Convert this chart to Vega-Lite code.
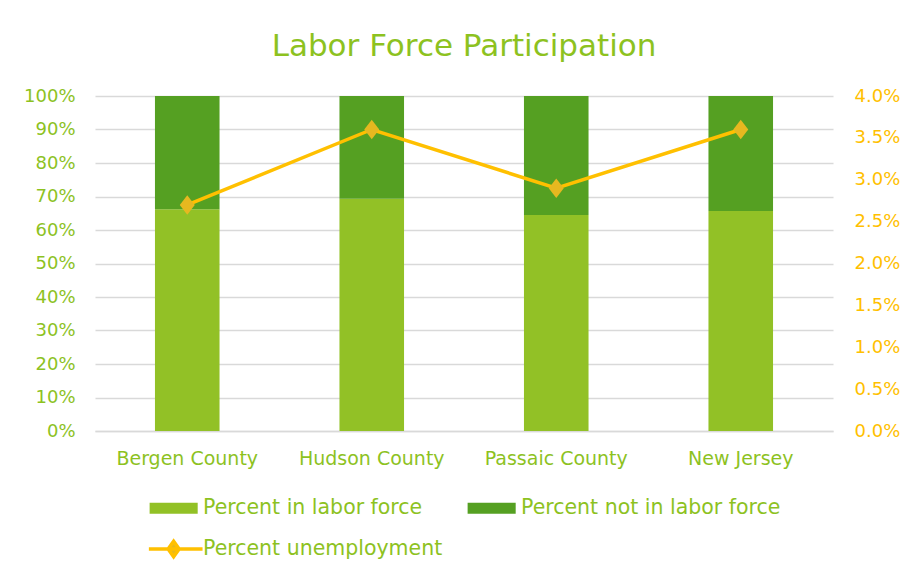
{
  "$schema": "https://vega.github.io/schema/vega-lite/v6.json",
  "width": 738,
  "height": 335,
  "autosize": {"type": "none"},
  "padding": {"left": 95, "top": 96, "right": 74, "bottom": 148},
  "background": "white",
  "title": {
    "text": "Labor Force Participation",
    "fontSize": 31,
    "font": "DejaVu Sans",
    "fontWeight": "normal",
    "color": "#8DC21F",
    "anchor": "middle",
    "offset": 24
  },
  "config": {
    "view": {"stroke": null},
    "font": "DejaVu Sans",
    "axis": {"labelFont": "DejaVu Sans"},
    "legend": {"labelFont": "DejaVu Sans"}
  },
  "datasets": {
    "bars": [
      {"county": "Bergen County", "series": "Percent in labor force", "value": 66.2},
      {"county": "Bergen County", "series": "Percent not in labor force", "value": 33.8},
      {"county": "Hudson County", "series": "Percent in labor force", "value": 69.3},
      {"county": "Hudson County", "series": "Percent not in labor force", "value": 30.7},
      {"county": "Passaic County", "series": "Percent in labor force", "value": 64.5},
      {"county": "Passaic County", "series": "Percent not in labor force", "value": 35.5},
      {"county": "New Jersey", "series": "Percent in labor force", "value": 65.7},
      {"county": "New Jersey", "series": "Percent not in labor force", "value": 34.3}
    ],
    "unemp": [
      {"county": "Bergen County", "series": "Percent unemployment", "value": 2.7},
      {"county": "Hudson County", "series": "Percent unemployment", "value": 3.6},
      {"county": "Passaic County", "series": "Percent unemployment", "value": 2.9},
      {"county": "New Jersey", "series": "Percent unemployment", "value": 3.6}
    ]
  },
  "encoding": {
    "x": {
      "field": "county",
      "type": "nominal",
      "sort": ["Bergen County", "Hudson County", "Passaic County", "New Jersey"],
      "scale": {"paddingInner": 0.65, "paddingOuter": 0.325},
      "axis": {
        "title": null,
        "labelAngle": 0,
        "labelFontSize": 19,
        "labelColor": "#8DC21F",
        "labelPadding": 18,
        "ticks": false,
        "domain": true,
        "domainColor": "#D9D9D9",
        "domainWidth": 1.5
      }
    }
  },
  "layer": [
    {
      "data": {"name": "bars"},
      "mark": {"type": "bar"},
      "encoding": {
        "y": {
          "field": "value",
          "type": "quantitative",
          "stack": "zero",
          "scale": {"domain": [0, 100], "nice": false},
          "axis": {
            "title": null,
            "values": [0, 10, 20, 30, 40, 50, 60, 70, 80, 90, 100],
            "labelExpr": "datum.value + '%'",
            "labelFontSize": 18,
            "labelColor": "#8DC21F",
            "labelPadding": 20,
            "ticks": false,
            "domain": false,
            "gridColor": "#D9D9D9",
            "gridWidth": 1.5
          }
        },
        "fill": {
          "field": "series",
          "type": "nominal",
          "scale": {
            "domain": ["Percent in labor force", "Percent not in labor force"],
            "range": ["#92C126", "#55A022"]
          },
          "legend": {
            "title": null,
            "orient": "none",
            "legendX": 50,
            "legendY": 401,
            "direction": "horizontal",
            "columns": 2,
            "columnPadding": 40,
            "symbolType": "M-0.58,-0.5H3.79V0.5H-0.58Z",
            "symbolSize": 484,
            "symbolStrokeWidth": 0,
            "labelOffset": 36,
            "labelLimit": 500,
            "labelFontSize": 20.5,
            "labelColor": "#8DC21F"
          }
        },
        "order": {"field": "series", "sort": "ascending"}
      }
    },
    {
      "data": {"name": "unemp"},
      "encoding": {
        "y": {
          "field": "value",
          "type": "quantitative",
          "scale": {"domain": [0, 4], "nice": false},
          "axis": {
            "title": null,
            "orient": "right",
            "values": [0, 0.5, 1, 1.5, 2, 2.5, 3, 3.5, 4],
            "labelExpr": "format(datum.value, '.1f') + '%'",
            "labelFontSize": 18,
            "labelColor": "#FFC000",
            "labelPadding": 21,
            "ticks": false,
            "domain": false,
            "grid": false
          }
        }
      },
      "layer": [
        {
          "mark": {"type": "line", "strokeWidth": 3.5},
          "encoding": {
            "stroke": {
              "field": "series",
              "type": "nominal",
              "scale": {"domain": ["Percent unemployment"], "range": ["#FFC000"]},
              "legend": {
                "title": null,
                "orient": "none",
                "legendX": 50,
                "legendY": 440,
                "symbolType": "M-0.83,0H4.05M1.42,-0.7L1.92,0L1.42,0.7L0.92,0Z",
                "symbolSize": 484,
                "symbolStrokeWidth": 3.5,
                "symbolFillColor": "#E6B820",
                "labelOffset": 32,
                "labelLimit": 500,
                "labelFontSize": 20.5,
                "labelColor": "#8DC21F"
              }
            }
          }
        },
        {
          "mark": {"type": "point", "shape": "M0,-1.3L1,0L0,1.3L-1,0Z", "filled": true, "size": 225, "color": "#E6B820", "opacity": 1}
        }
      ]
    }
  ],
  "resolve": {"scale": {"y": "independent"}}
}
